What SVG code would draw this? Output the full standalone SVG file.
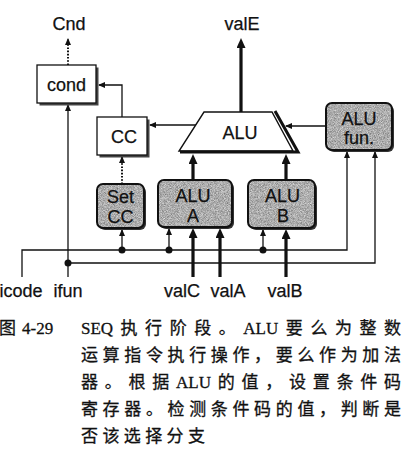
<svg xmlns="http://www.w3.org/2000/svg" width="413" height="464" viewBox="0 0 413 464">
<style>
.lbl{font-family:"Liberation Sans",Arial,sans-serif;font-size:18px;fill:#111;stroke:#111;stroke-width:0.25;text-anchor:middle}
.box{fill:#fff;stroke:#111;stroke-width:1.3}
.shd{fill:#444}
.gshd{fill:#333}
.gfill{filter:url(#grain)}
.gbor{fill:none;stroke:#111;stroke-width:2}
.w{fill:none;stroke:#111;stroke-width:1.3}
.t{fill:none;stroke:#111;stroke-width:3.2}
.dot{fill:#111}
.dash{fill:none;stroke:#111;stroke-width:2;stroke-dasharray:1.6 1.6}
.cap{font-family:"Liberation Serif","Noto Sans CJK SC",serif;font-size:17px;fill:#111;stroke:#111;stroke-width:0.3}
.cj{font-family:"Noto Sans CJK SC","Liberation Serif",sans-serif}
</style>
<defs>
<filter id="grain" x="0" y="0" width="1" height="1" color-interpolation-filters="sRGB">
<feTurbulence type="fractalNoise" baseFrequency="1.3" numOctaves="2" seed="7" result="t"/>
<feColorMatrix in="t" type="matrix" values="0.55 0 0 0 0.4  0.55 0 0 0 0.4  0.55 0 0 0 0.4  0 0 0 0 1" result="g"/>
<feComposite in="g" in2="SourceGraphic" operator="in"/>
</filter>
<marker id="a" markerUnits="userSpaceOnUse" markerWidth="8" markerHeight="6" refX="6" refY="3" orient="auto"><path d="M0,0 L7,3 L0,6 z" fill="#111"/></marker>
<marker id="A" markerUnits="userSpaceOnUse" markerWidth="11" markerHeight="9" refX="3" refY="4.5" orient="auto"><path d="M0,0 L10,4.5 L0,9 z" fill="#111"/></marker>
</defs>

<g id="connectors">
<path class="dash" d="M68,65 V39" marker-end="url(#a)"/>
<path class="w" d="M122,117 V85 H99" marker-end="url(#a)"/>
<path class="w" d="M196,125 H150" marker-end="url(#a)"/>
<path class="w" d="M326,126 H286" marker-end="url(#a)"/>
<path class="t" d="M241,112 V45" marker-end="url(#A)"/>
<path class="t" d="M193,180 V161" marker-end="url(#A)"/>
<path class="t" d="M286,180 V161" marker-end="url(#A)"/>
<path class="dash" d="M122,184 V157" marker-end="url(#a)"/>
<path class="w" d="M68,277 V105" marker-end="url(#a)"/>
<path class="w" d="M22,277 V250 H347 V152" marker-end="url(#a)"/>
<path class="w" d="M68,263 H375 V152" marker-end="url(#a)"/>
<path class="w" d="M122,250 V230" marker-end="url(#a)"/>
<path class="w" d="M169,250 V229" marker-end="url(#a)"/>
<path class="w" d="M263,250 V230" marker-end="url(#a)"/>
<path class="t" d="M193,277 V235" marker-end="url(#A)"/>
<path class="t" d="M220,277 V235" marker-end="url(#A)"/>
<path class="t" d="M286,277 V236" marker-end="url(#A)"/>
<circle class="dot" cx="68" cy="263" r="3.5"/>
<circle class="dot" cx="122" cy="250" r="3.5"/>
<circle class="dot" cx="169" cy="250" r="3.5"/>
<circle class="dot" cx="263" cy="250" r="3.5"/>
</g>

<g id="cond">
<rect class="shd" x="39.5" y="67.5" width="59" height="38"/>
<rect class="box" x="37" y="65" width="59" height="38"/>
<text class="lbl" x="66.5" y="91">cond</text>
</g>

<g id="cc">
<rect class="shd" x="99.5" y="119.5" width="50" height="38"/>
<rect class="box" x="97" y="117" width="50" height="38"/>
<text class="lbl" x="124" y="143">CC</text>
</g>

<g id="alu">
<polygon points="204,112 272,112 293,151 179,151" fill="#fff" stroke="#111" stroke-width="1.4"/>
<polyline points="275,111 298,152 180,152" fill="none" stroke="#111" stroke-width="3" stroke-linejoin="miter"/>
<text class="lbl" x="240" y="138.5">ALU</text>
</g>

<g id="alufun">
<rect class="gshd" x="328" y="105" width="66" height="47" rx="6"/>
<rect class="gfill" x="326" y="103" width="66" height="47" rx="6"/>
<rect class="gbor" x="326" y="103" width="66" height="47" rx="6"/>
<text class="lbl" x="359" y="125">ALU</text>
<text class="lbl" x="359" y="144">fun.</text>
</g>

<g id="setcc">
<rect class="gshd" x="99" y="186" width="47" height="44" rx="6"/>
<rect class="gfill" x="97" y="184" width="47" height="44" rx="6"/>
<rect class="gbor" x="97" y="184" width="47" height="44" rx="6"/>
<text class="lbl" x="120.5" y="203">Set</text>
<text class="lbl" x="120.5" y="223">CC</text>
</g>

<g id="alua">
<rect class="gshd" x="160" y="182" width="74" height="47" rx="6"/>
<rect class="gfill" x="158" y="180" width="74" height="47" rx="6"/>
<rect class="gbor" x="158" y="180" width="74" height="47" rx="6"/>
<text class="lbl" x="193" y="202">ALU</text>
<text class="lbl" x="193" y="222">A</text>
</g>

<g id="alub">
<rect class="gshd" x="250" y="182" width="67" height="48" rx="6"/>
<rect class="gfill" x="248" y="180" width="67" height="48" rx="6"/>
<rect class="gbor" x="248" y="180" width="67" height="48" rx="6"/>
<text class="lbl" x="282.5" y="202">ALU</text>
<text class="lbl" x="283" y="222">B</text>
</g>

<g id="labels">
<text class="lbl" x="69" y="30">Cnd</text>
<text class="lbl" x="242" y="30">valE</text>
<text class="lbl" x="21" y="297">icode</text>
<text class="lbl" x="68" y="297">ifun</text>
<text class="lbl" x="182" y="297">valC</text>
<text class="lbl" x="228" y="297">valA</text>
<text class="lbl" x="285" y="297">valB</text>
</g>

<g id="caption" class="cap">
<text y="334"><tspan class="cj" x="-1">图</tspan><tspan x="22">4-29</tspan><tspan x="81">SEQ</tspan><tspan class="cj" x="120.55 145.1 169.65 194.2 218.75">执行阶段。</tspan><tspan x="243.3">ALU</tspan><tspan class="cj" x="285.85 310.4 334.95 359.5 384.05">要么为整数</tspan></text>
<text y="361" class="cj" x="81 102.6 124.3 145.9 167.6 189.2 210.8 232.5 254.1 275.8 297.4 319 340.7 362.3 384">运算指令执行操作，要么作为加法</text>
<text y="388"><tspan class="cj" x="81 104.75 128.5 152.25">器。根据</tspan><tspan x="176">ALU</tspan><tspan class="cj" x="217.75 241.5 265.25 289 312.75 336.5 360.25 384">的值，设置条件码</tspan></text>
<text y="415" class="cj" x="81 102.6 124.3 145.9 167.6 189.2 210.8 232.5 254.1 275.8 297.4 319 340.7 362.3 384">寄存器。检测条件码的值，判断是</text>
<text y="442" class="cj" x="81 102.4 123.8 145.2 166.6 188">否该选择分支</text>
</g>
</svg>
